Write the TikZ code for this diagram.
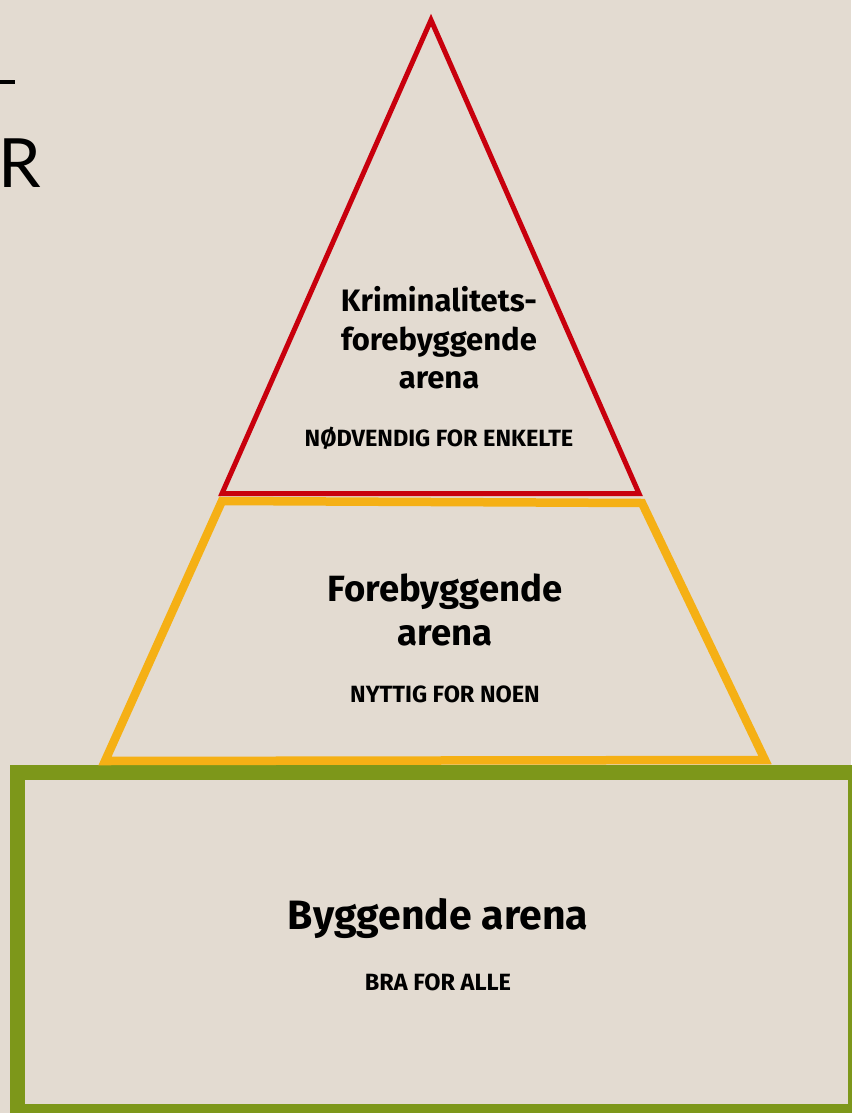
\documentclass[tikz,border=0pt]{standalone}
\usepackage{fontspec}
\setmainfont{Fira Sans}
\newfontfamily\thinfont{Lato}
\usepackage{xcolor}
\usepackage{tikz}
\usetikzlibrary{positioning,calc}

\definecolor{bgbeige}{HTML}{E3DBD1}
\definecolor{redline}{HTML}{C8000D}
\definecolor{orangeline}{HTML}{F5B015}
\definecolor{greenline}{HTML}{7D971A}

\begin{document}
\begin{tikzpicture}[x=1pt, y=-1pt,
    title/.style={align=center, font=\bfseries\fontsize{31}{38.5}\selectfont},
    bigtitle/.style={align=center, font=\bfseries\fontsize{36.5}{44}\selectfont},
    hugetitle/.style={align=center, font=\bfseries\fontsize{41}{46}\selectfont},
    tag/.style={font=\bfseries\fontsize{23.5}{26}\selectfont}]
    \useasboundingbox (0,0) rectangle (851,1113);
    \fill[bgbeige] (0,0) rectangle (851,1113);

    % cut-off heading at the left
    \draw[line width=3.5] (0,82) -- (15,82);
    \node[anchor=west, inner sep=0, font=\thinfont\fontsize{68}{70}\selectfont] (head) at (-2,163) {R};

    % the three levels
    \draw[greenline, line width=15] (17,772.5) rectangle (855.5,1111.5);
    \draw[orangeline, line width=8.5, line join=miter] (222,501) -- (642,503) -- (765,760) -- (105,761) -- cycle;
    \draw[redline, line width=5, line join=miter] (431,20) -- (639,493.5) -- (222,493.5) -- cycle;

    \node[title] (krim) at (439,338) {Kriminalitets-\\forebyggende\\arena};
    \node[tag] (krimtag) at (439,438) {NØDVENDIG FOR ENKELTE};

    \node[bigtitle] (fore) at (445,610) {Forebyggende\\arena};
    \node[tag] (foretag) at (445,694) {NYTTIG FOR NOEN};

    \node[hugetitle] (bygg) at (438,918) {Byggende arena};
    \node[tag] (byggtag) at (438,982) {BRA FOR ALLE};
\end{tikzpicture}
\end{document}
